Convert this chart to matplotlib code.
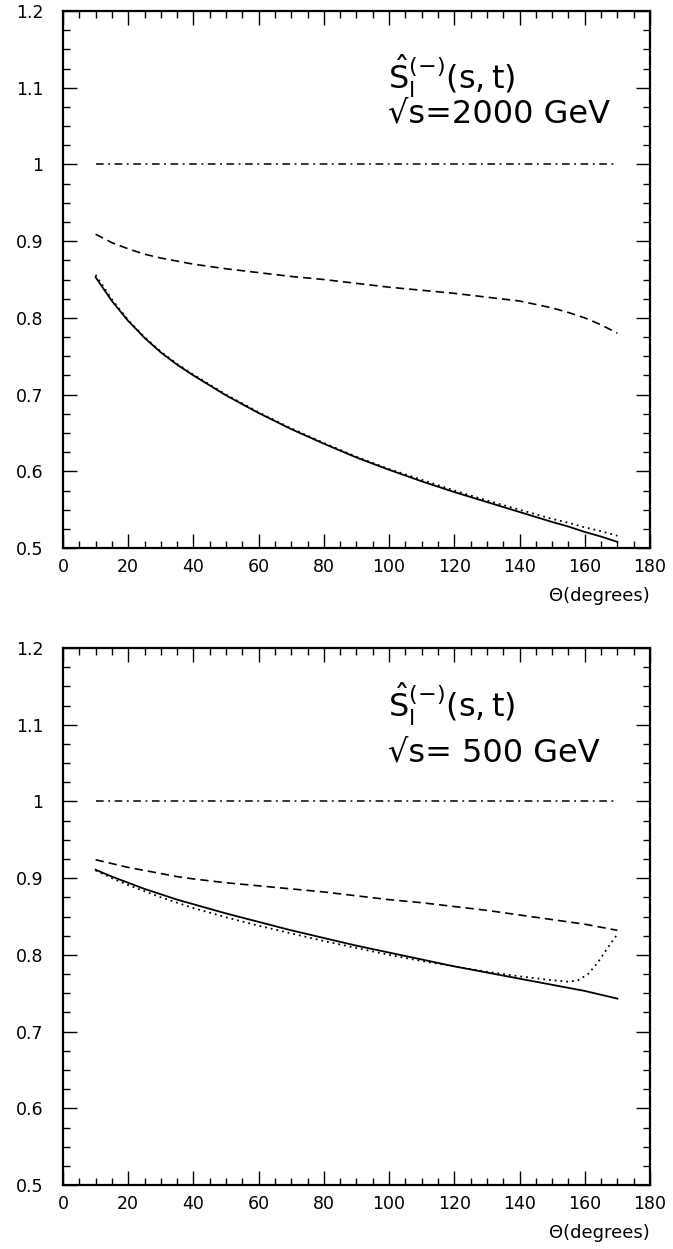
import numpy as np
import matplotlib
matplotlib.use('agg')
import matplotlib.pyplot as plt
from matplotlib.ticker import MultipleLocator, FormatStrFormatter

plt.rcParams['font.family'] = ['DejaVu Sans']
plt.rcParams['mathtext.fontset'] = 'dejavusans'
plt.rcParams['mathtext.default'] = 'regular'

# angle grid (degrees)
theta = [10, 15, 20, 25, 30, 35, 40, 50, 60, 70, 80, 90, 100, 110, 120, 130, 140,
         150, 155, 160, 165, 170]

# sqrt(s) = 2000 GeV
ref_2000 = [1.0] * len(theta)
dash_2000 = [0.909, 0.898, 0.890, 0.883, 0.878, 0.874, 0.870, 0.864, 0.859, 0.854,
             0.850, 0.845, 0.840, 0.836, 0.832, 0.827, 0.822, 0.813, 0.807, 0.800,
             0.791, 0.780]
solid_2000 = [0.853, 0.822, 0.796, 0.774, 0.755, 0.739, 0.725, 0.699, 0.676, 0.655,
              0.636, 0.618, 0.602, 0.587, 0.573, 0.560, 0.547, 0.534, 0.528, 0.521,
              0.515, 0.508]
dot_2000 = [0.856, 0.824, 0.797, 0.775, 0.756, 0.740, 0.726, 0.700, 0.677, 0.656,
            0.637, 0.619, 0.603, 0.589, 0.575, 0.562, 0.550, 0.538, 0.533, 0.527,
            0.522, 0.516]

# sqrt(s) = 500 GeV
ref_500 = [1.0] * len(theta)
dash_500 = [0.924, 0.919, 0.914, 0.910, 0.906, 0.902, 0.899, 0.894, 0.890, 0.886,
            0.882, 0.877, 0.872, 0.868, 0.863, 0.858, 0.852, 0.846, 0.843, 0.840,
            0.836, 0.832]
solid_500 = [0.911, 0.902, 0.894, 0.886, 0.879, 0.872, 0.866, 0.854, 0.843, 0.832,
             0.822, 0.812, 0.803, 0.794, 0.785, 0.777, 0.769, 0.761, 0.757, 0.753,
             0.748, 0.743]
theta_dot500 = [10, 15, 20, 25, 30, 35, 40, 50, 60, 70, 80, 90, 100, 110, 120, 130,
                140, 150, 155, 158, 161, 164, 167, 170]
dot_500 = [0.910, 0.900, 0.891, 0.883, 0.875, 0.868, 0.861, 0.849, 0.838, 0.828,
           0.818, 0.809, 0.800, 0.792, 0.785, 0.778, 0.772, 0.767, 0.765, 0.767,
           0.775, 0.790, 0.809, 0.827]

label = r'$\hat{S}_{\mathrm{l}}^{(-)}(s,t)$'
energies = ['√s=2000 GeV', '√s= 500 GeV']

fig = plt.figure(figsize=(6.73, 12.49), dpi=100)
ax1 = fig.add_axes([0.0936, 0.5612, 0.8722, 0.4300])
ax2 = fig.add_axes([0.0936, 0.0512, 0.8722, 0.4300])

panels = [
    (ax1, ref_2000, dash_2000, solid_2000, theta, dot_2000, energies[0], 0.855, 0.792),
    (ax2, ref_500, dash_500, solid_500, theta_dot500, dot_500, energies[1], 0.872, 0.788),
]

for ax, ref, dash, solid, tdot, dot, en, y1, y2 in panels:
    ax.plot(theta, ref, color='k', lw=1.1, dashes=(5, 3, 1.2, 3))
    ax.plot(theta, dash, color='k', lw=1.2, dashes=(5, 3))
    ax.plot(tdot, dot, color='k', lw=1.3, dashes=(1, 2.2))
    ax.plot(theta, solid, color='k', lw=1.3)
    ax.set_xlim(0, 180)
    ax.set_ylim(0.5, 1.2)
    ax.xaxis.set_major_locator(MultipleLocator(20))
    ax.xaxis.set_minor_locator(MultipleLocator(5))
    ax.yaxis.set_major_locator(MultipleLocator(0.1))
    ax.yaxis.set_minor_locator(MultipleLocator(0.025))
    ax.yaxis.set_major_formatter(FormatStrFormatter('%g'))
    ax.tick_params(which='both', direction='in', top=True, right=True,
                   labelsize=12.5, width=1)
    ax.tick_params(axis='y', pad=14)
    ax.tick_params(axis='x', pad=7)
    ax.tick_params(which='major', length=10)
    ax.tick_params(which='minor', length=5)
    for sp in ax.spines.values():
        sp.set_linewidth(1.6)
    ax.set_xlabel('Θ(degrees)', loc='right', fontsize=13, labelpad=8)
    ax.text(0.554, y1, label, transform=ax.transAxes, fontsize=23)
    ax.text(0.554, y2, en, transform=ax.transAxes, fontsize=23)

plt.savefig('out.png', dpi=100)
